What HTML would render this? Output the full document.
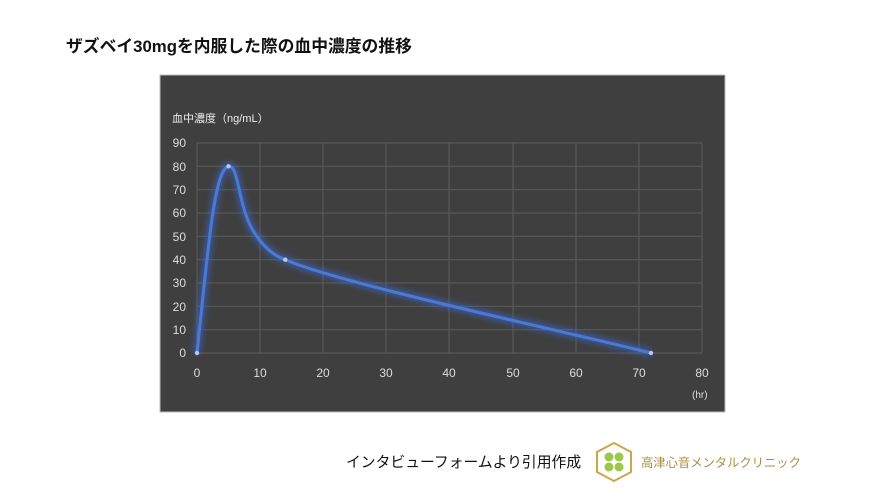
<!DOCTYPE html>
<html><head><meta charset="utf-8"><style>
body{margin:0;width:886px;height:498px;background:#fff;overflow:hidden;font-family:"Liberation Sans","Noto Sans CJK JP",sans-serif;}
</style></head><body>
<svg width="886" height="498" xmlns="http://www.w3.org/2000/svg" style="position:absolute;left:0;top:0">
<defs><filter id="g" x="-20%" y="-20%" width="140%" height="140%"><feGaussianBlur stdDeviation="3"/></filter></defs>
<text x="66" y="52" font-size="16.8" font-weight="bold" fill="#111" font-family="Liberation Sans,Noto Sans CJK JP,sans-serif">ザズベイ30mgを内服した際の血中濃度の推移</text>
<rect x="160" y="75" width="565" height="337" fill="#3f3f3f" stroke="#bbb" stroke-width="1"/>
<text x="172" y="122" font-size="11" fill="#eee" font-family="Liberation Sans,Noto Sans CJK JP,sans-serif">血中濃度（ng/mL）</text>
<g stroke="#5c5c5c" stroke-width="1">
<line x1="197" y1="143" x2="702" y2="143"/><line x1="197" y1="166.3" x2="702" y2="166.3"/><line x1="197" y1="189.7" x2="702" y2="189.7"/><line x1="197" y1="213" x2="702" y2="213"/><line x1="197" y1="236.3" x2="702" y2="236.3"/><line x1="197" y1="259.7" x2="702" y2="259.7"/><line x1="197" y1="283" x2="702" y2="283"/><line x1="197" y1="306.3" x2="702" y2="306.3"/><line x1="197" y1="329.7" x2="702" y2="329.7"/><line x1="197" y1="353" x2="702" y2="353"/>
<line x1="197" y1="143" x2="197" y2="353"/><line x1="260" y1="143" x2="260" y2="353"/><line x1="323" y1="143" x2="323" y2="353"/><line x1="386" y1="143" x2="386" y2="353"/><line x1="449" y1="143" x2="449" y2="353"/><line x1="513" y1="143" x2="513" y2="353"/><line x1="576" y1="143" x2="576" y2="353"/><line x1="639" y1="143" x2="639" y2="353"/><line x1="702" y1="143" x2="702" y2="353"/>
</g>
<g font-size="12" fill="#ddd" text-anchor="end">
<text x="186" y="147">90</text><text x="186" y="171">80</text><text x="186" y="194">70</text><text x="186" y="217">60</text><text x="186" y="241">50</text><text x="186" y="264">40</text><text x="186" y="287">30</text><text x="186" y="311">20</text><text x="186" y="334">10</text><text x="186" y="357">0</text>
</g>
<g font-size="12" fill="#ddd" text-anchor="middle">
<text x="197" y="377">0</text><text x="260" y="377">10</text><text x="323" y="377">20</text><text x="386" y="377">30</text><text x="449" y="377">40</text><text x="513" y="377">50</text><text x="576" y="377">60</text><text x="639" y="377">70</text><text x="702" y="377">80</text>
</g>
<text x="692" y="398" font-size="10" fill="#ddd">(hr)</text>
<path id="c" d="M197,353 C208,250 214,170 228.5,166.3 C238,164 238,200 250,225 C262,248 275,256 285.3,259.7 C345,285 560,330 651,353" fill="none"/>
<use href="#c" stroke="#3a6ee8" stroke-width="8" opacity="0.5" filter="url(#g)"/>
<use href="#c" stroke="#4a7ad8" stroke-width="3"/>
<g fill="#b8c8f0"><circle cx="197" cy="353" r="2.2"/><circle cx="228.5" cy="166.3" r="2.2"/><circle cx="285.3" cy="259.7" r="2.2"/><circle cx="651" cy="353" r="2.2"/></g>
<text x="346" y="467" font-size="14.8" fill="#111" font-family="Liberation Sans,Noto Sans CJK JP,sans-serif">インタビューフォームより引用作成</text>
<polygon points="614,443 631,452 631,472 614,481 597,472 597,452" fill="#fff" stroke="#c8a84a" stroke-width="2"/>
<g fill="#9cc84a"><circle cx="609" cy="457" r="4.5"/><circle cx="619" cy="457" r="4.5"/><circle cx="609" cy="467" r="4.5"/><circle cx="619" cy="467" r="4.5"/></g>
<text x="641" y="467" font-size="12.3" fill="#a89040" font-family="Liberation Sans,Noto Sans CJK JP,sans-serif">高津心音メンタルクリニック</text>
</svg>
</body></html>
